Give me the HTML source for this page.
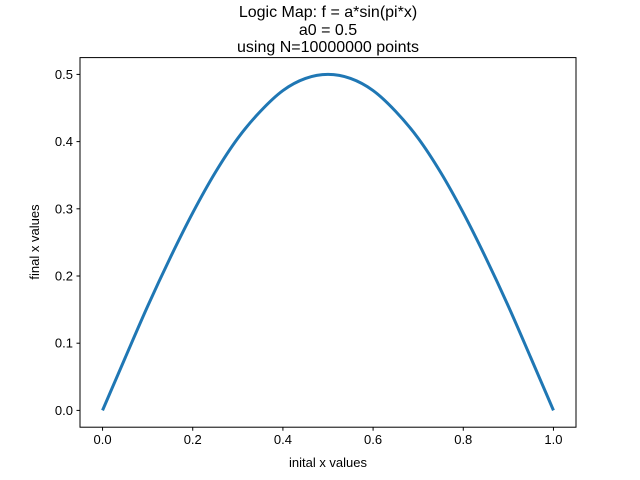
<!DOCTYPE html>
<html><head><meta charset="utf-8"><style>
body{margin:0;background:#fff;}
svg{display:block;font-family:"Liberation Sans","DejaVu Sans",sans-serif;}
</style></head><body>
<svg id="chart" width="640" height="480">
<rect width="640" height="480" fill="#fff"/>
<g font-size="16" text-anchor="middle" fill="#000">
<text x="328" y="17">Logic Map: f = a*sin(pi*x)</text>
<text x="328" y="35">a0 = 0.5</text>
<text x="328" y="52">using N=10000000 points</text>
</g>
<g id="plot"></g>
<rect x="80" y="57.6" width="496" height="369.6" fill="none" stroke="#000" stroke-width="1"/>
<text x="328" y="467" font-size="13" text-anchor="middle">inital x values</text>
<text transform="translate(39,242) rotate(-90)" font-size="13" text-anchor="middle">final x values</text>
</svg>
<script>
const xValues=[0,0.05,0.1,0.15,0.2,0.25,0.3,0.35,0.4,0.45,0.5,0.55,0.6,0.65,0.7,0.75,0.8,0.85,0.9,0.95,1];
const yValues=[0,0.078,0.155,0.227,0.294,0.354,0.405,0.445,0.476,0.494,0.5,0.494,0.476,0.445,0.405,0.354,0.294,0.227,0.155,0.078,0];
const xTicks=["0.0","0.2","0.4","0.6","0.8","1.0"];
const yTicks=["0.0","0.1","0.2","0.3","0.4","0.5"];
const L=80,R=576,T=57.6,B=427.2;
const sx=v=>L+(v+0.05)/1.1*(R-L);
const sy=v=>B-(v+0.025)/0.55*(B-T);
const g=document.getElementById('plot');
const NS='http://www.w3.org/2000/svg';
function mk(t,a){const e=document.createElementNS(NS,t);for(const k in a)e.setAttribute(k,a[k]);g.appendChild(e);return e;}
xTicks.forEach(t=>{const v=parseFloat(t),x=sx(v);
 const l=mk('line',{x1:x,x2:x,y1:B,y2:B+3.5,stroke:'#000'});
 
 
 const tx=mk('text',{x:x,y:B+17,'font-size':'13','text-anchor':'middle'});tx.textContent=t;
 
 });
yTicks.forEach(t=>{const v=parseFloat(t),y=sy(v);
 const l=mk('line',{x1:L-3.5,x2:L,y1:y,y2:y,stroke:'#000'});
 
 
 const tx=mk('text',{x:L-7,y:y+4.5,'font-size':'13','text-anchor':'end'});tx.textContent=t;
 
 });
let d='';
for(let i=0;i<xValues.length-1;i++){
 const x0=xValues[i],x1=xValues[i+1],y0=yValues[i],y1=yValues[i+1];
 const yp=i>0?yValues[i-1]:2*y0-y1,yn=i+2<yValues.length?yValues[i+2]:2*y1-y0;
 const dx=x1-x0;
 const c1x=x0+dx/3,c1y=y0+(y1-yp)/6,c2x=x1-dx/3,c2y=y1-(yn-y0)/6;
 if(i===0)d+='M'+sx(x0)+','+sy(y0);
 d+=' C'+sx(c1x)+','+sy(c1y)+' '+sx(c2x)+','+sy(c2y)+' '+sx(x1)+','+sy(y1);
}
const p=mk('path',{d:d,fill:'none',stroke:'#1f77b4','stroke-width':'3'});


</script>
</body></html>
